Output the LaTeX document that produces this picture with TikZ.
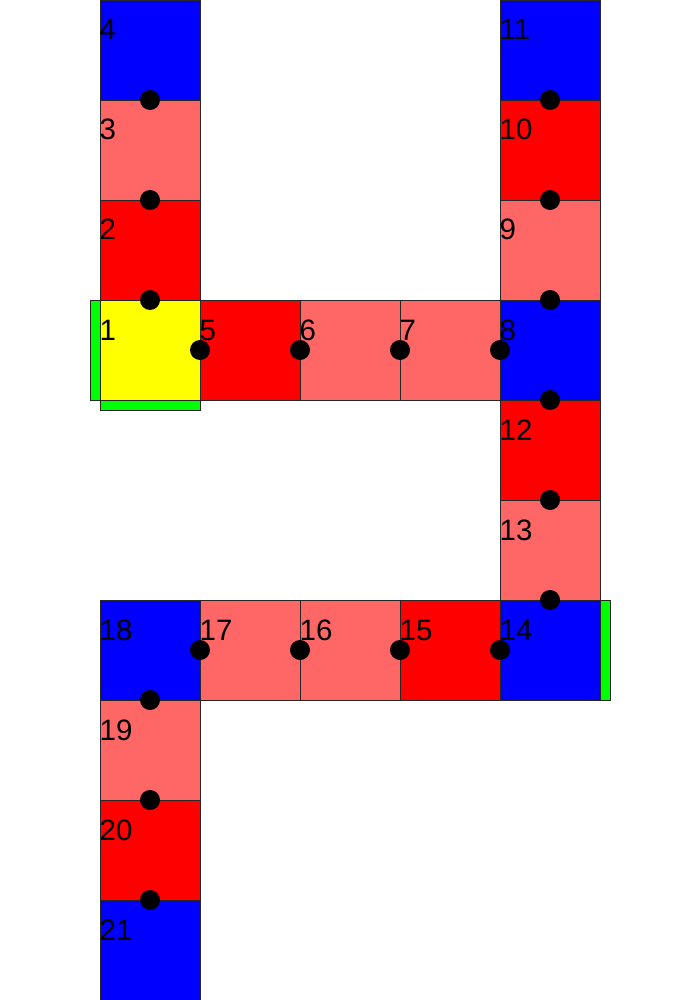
\documentclass[tikz,border=0pt]{standalone}
\usepackage{fontspec}
\setmainfont{Liberation Sans}
\definecolor{cred}{HTML}{FF0000}
\definecolor{clight}{HTML}{FF6666}
\definecolor{cblue}{HTML}{0000FF}
\definecolor{cyellow}{HTML}{FFFF00}
\definecolor{cgreen}{HTML}{00FF00}
\tikzset{
  cell/.style={draw=black!85, line width=0.9pt, minimum width=100pt, minimum height=100pt, inner sep=0pt, outer sep=0pt},
  bar/.style={draw=black!85, line width=0.9pt, fill=cgreen},
  lbl/.style={anchor=base west, inner sep=0pt, font=\fontsize{29.5}{30}\selectfont, text=black},
  joint/.style={circle, fill=black, minimum size=20pt, inner sep=0pt},
}
\begin{document}
\begin{tikzpicture}[x=1pt,y=-1pt]
\useasboundingbox (0,0) rectangle (700,1000);
% green bars
\draw[bar] (90,300) rectangle (100,400);
\draw[bar] (100,400) rectangle (200,410);
\draw[bar] (600,600) rectangle (610,700);
% cells
\node[cell, fill=cblue]   (c4)  at (150,50)  {};
\node[cell, fill=clight]  (c3)  at (150,150) {};
\node[cell, fill=cred]    (c2)  at (150,250) {};
\node[cell, fill=cyellow] (c1)  at (150,350) {};
\node[cell, fill=cred]    (c5)  at (250,350) {};
\node[cell, fill=clight]  (c6)  at (350,350) {};
\node[cell, fill=clight]  (c7)  at (450,350) {};
\node[cell, fill=cblue]   (c8)  at (550,350) {};
\node[cell, fill=clight]  (c9)  at (550,250) {};
\node[cell, fill=cred]    (c10) at (550,150) {};
\node[cell, fill=cblue]   (c11) at (550,50)  {};
\node[cell, fill=cred]    (c12) at (550,450) {};
\node[cell, fill=clight]  (c13) at (550,550) {};
\node[cell, fill=cblue]   (c14) at (550,650) {};
\node[cell, fill=cred]    (c15) at (450,650) {};
\node[cell, fill=clight]  (c16) at (350,650) {};
\node[cell, fill=clight]  (c17) at (250,650) {};
\node[cell, fill=cblue]   (c18) at (150,650) {};
\node[cell, fill=clight]  (c19) at (150,750) {};
\node[cell, fill=cred]    (c20) at (150,850) {};
\node[cell, fill=cblue]   (c21) at (150,950) {};
% labels
\foreach \n in {1,...,21}{
  \node[lbl] (l\n) at ([xshift=-0.5pt,yshift=-40pt]c\n.north west) {\n};
}
% joints
\node[joint] (j1)  at (c4.south)  {};
\node[joint] (j2)  at (c3.south)  {};
\node[joint] (j3)  at (c2.south)  {};
\node[joint] (j4)  at (c1.east)   {};
\node[joint] (j5)  at (c5.east)   {};
\node[joint] (j6)  at (c6.east)   {};
\node[joint] (j7)  at (c7.east)   {};
\node[joint] (j8)  at (c11.south) {};
\node[joint] (j9)  at (c10.south) {};
\node[joint] (j10) at (c9.south)  {};
\node[joint] (j11) at (c8.south)  {};
\node[joint] (j12) at (c12.south) {};
\node[joint] (j13) at (c13.south) {};
\node[joint] (j14) at (c14.west)  {};
\node[joint] (j15) at (c15.west)  {};
\node[joint] (j16) at (c16.west)  {};
\node[joint] (j17) at (c17.west)  {};
\node[joint] (j18) at (c18.south) {};
\node[joint] (j19) at (c19.south) {};
\node[joint] (j20) at (c20.south) {};
\end{tikzpicture}
\end{document}
